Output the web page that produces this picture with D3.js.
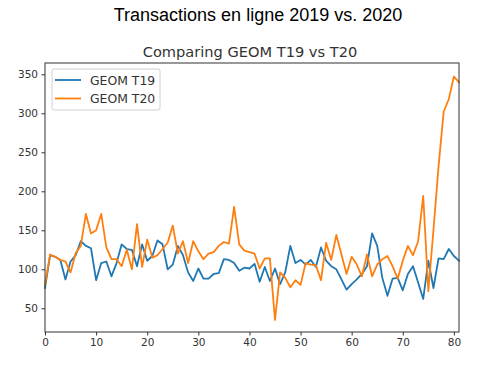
<!DOCTYPE html>
<html>
<head>
<meta charset="utf-8">
<script src="https://cdn.jsdelivr.net/npm/d3@7"></script>
<style>
  body { margin: 0; background: #fff; }
  svg { display: block; }
  .tick text { font-family: "DejaVu Sans", sans-serif; font-size: 10.5px; fill: #333; }
</style>
</head>
<body>
<svg id="output" width="489" height="373"></svg>
<script>
// values, one per day index 0..81
var t19 = [76, 118, 116, 112, 87, 110, 118, 136, 130, 127, 86, 108, 110, 91, 108, 132,
  126, 125, 104, 132, 111, 117, 137, 132, 100, 106, 130, 118, 96, 85, 101, 88,
  88, 94, 95, 113, 112, 108, 98, 102, 101, 107, 84, 103, 85, 101, 81, 96,
  130, 108, 112, 106, 112, 103, 128, 111, 104, 100, 87, 74, 81, 87, 94, 104,
  146, 130, 89, 66, 88, 89, 73, 94, 104, 83, 62, 111, 76, 114, 113, 126, 117, 111];
var t20 = [80, 119, 116, 112, 110, 96, 121, 130, 171, 146, 150, 171, 128, 113, 113, 104,
  125, 100, 158, 103, 138, 115, 118, 126, 134, 156, 120, 136, 108, 136, 123, 113,
  120, 122, 130, 135, 133, 180, 132, 124, 122, 120, 101, 114, 114, 35, 96, 89,
  77, 86, 80, 108, 106, 105, 86, 134, 112, 144, 119, 94, 116, 106, 91, 119,
  91, 106, 113, 117, 104, 88, 111, 130, 118, 136, 194, 72, 150, 232, 302, 318, 347, 340];
var seriesNames = ["GEOM T19", "GEOM T20"];
var seriesColors = ["#1f77b4", "#ff7f0e"];
var yTicks = [50, 100, 150, 200, 250, 300, 350];
var xTicks = [0, 10, 20, 30, 40, 50, 60, 70, 80];

var svg = d3.select('#output');
var pLeft = 45, pRight = 459, pTop = 63, pBottom = 332;

var x = d3.scaleLinear().domain([0, 81]).range([pLeft, pRight]);
var y = d3.scaleLinear().domain([19.6, 364.5]).range([pBottom, pTop]);

svg.append('text').attr('x', 258).attr('y', 21).attr('text-anchor', 'middle')
  .attr('font-family', '"Liberation Sans", Arial, sans-serif').attr('font-size', '18px')
  .attr('fill', '#000').text('Transactions en ligne 2019 vs. 2020');

svg.append('text').attr('x', 250).attr('y', 57).attr('text-anchor', 'middle')
  .attr('font-family', '"DejaVu Sans", sans-serif').attr('font-size', '14.6px')
  .attr('fill', '#333').text('Comparing GEOM T19 vs T20');

var line = d3.line().x(function (d, i) { return x(i); }).y(function (d) { return y(d); });

[t19, t20].forEach(function (s, k) {
  svg.append('path').datum(s).attr('d', line).attr('fill', 'none')
    .attr('stroke', seriesColors[k]).attr('stroke-width', 1.8)
    .attr('stroke-linejoin', 'round').attr('stroke-linecap', 'square');
});

var xAxis = svg.append('g').attr('transform', 'translate(0,' + pBottom + ')')
  .call(d3.axisBottom(x).tickValues(xTicks).tickSize(3.5).tickPadding(3.5));
var yAxis = svg.append('g').attr('transform', 'translate(' + pLeft + ',0)')
  .call(d3.axisLeft(y).tickValues(yTicks).tickSize(3.5).tickPadding(3.5));
[xAxis, yAxis].forEach(function (a) {
  a.select('.domain').remove();
  a.selectAll('.tick line').attr('stroke', '#333');
  a.attr('font-family', null).attr('font-size', null);
});

svg.append('rect').attr('x', pLeft).attr('y', pTop).attr('width', pRight - pLeft)
  .attr('height', pBottom - pTop).attr('fill', 'none').attr('stroke', '#333').attr('stroke-width', 1);

// legend
var lg = svg.append('g');
lg.append('rect').attr('x', 52).attr('y', 69).attr('width', 108).attr('height', 41)
  .attr('rx', 2).attr('fill', '#fff').attr('fill-opacity', 0.8).attr('stroke', '#d0d0d0');
seriesNames.forEach(function (n, k) {
  var ly = 80 + k * 18.5;
  lg.append('line').attr('x1', 55).attr('x2', 81).attr('y1', ly).attr('y2', ly)
    .attr('stroke', seriesColors[k]).attr('stroke-width', 1.8);
  lg.append('text').attr('x', 90).attr('y', ly + 4.5)
    .attr('font-family', '"DejaVu Sans", sans-serif').attr('font-size', '12.4px')
    .attr('fill', '#333').text(n);
});
</script>
</body>
</html>
